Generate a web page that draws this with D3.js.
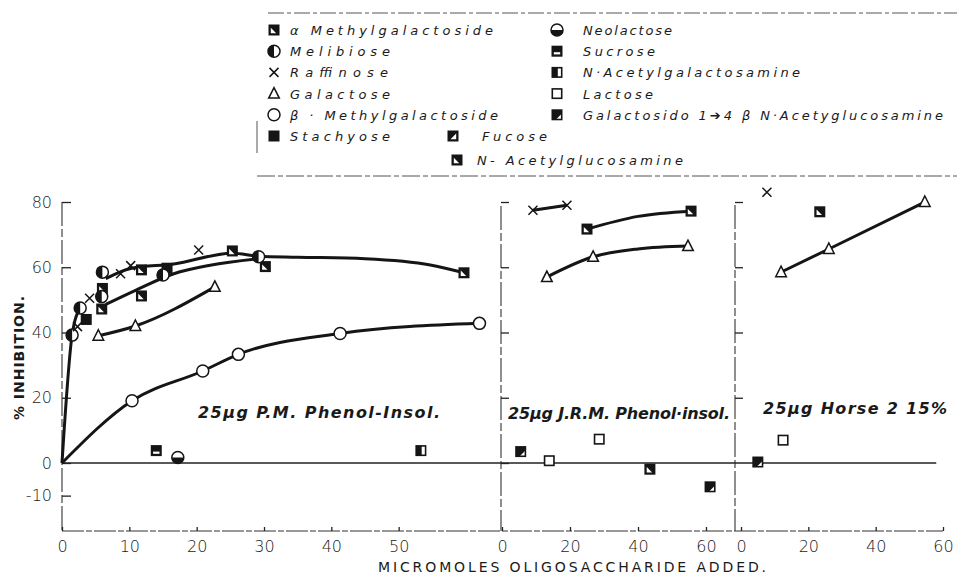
<!DOCTYPE html>
<html>
<head>
<meta charset="utf-8">
<script src="https://cdn.jsdelivr.net/npm/d3@7"></script>
<style>
  body { margin: 0; background: #fff; }
  text { font-family: "DejaVu Sans", sans-serif; fill: #1a1a1a; }
</style>
</head>
<body>
<div id="chart"></div>
<script>
// values: [micromoles, % inhibition]
// left panel: 25ug P.M. Phenol-Insol.
const alphaMethylL = [[6.0, 53.5], [11.8, 59.2], [25.3, 65.0], [59.7, 58.3]];
const acGlucosamineL = [[5.9, 47.2], [11.8, 51.2], [30.2, 60.2]];
const melibioseL = [[1.5, 39.2], [2.7, 47.5], [5.9, 51.0], [6.0, 58.5], [15.0, 57.6], [29.2, 63.2]];
const raffinoseL = [[2.3, 41.8], [4.1, 50.5], [8.7, 58.0], [10.2, 60.5], [20.3, 65.3]];
const stachyoseL = [[3.6, 44.0], [15.6, 59.7]];
const galactoseL = [[5.4, 39.0], [10.9, 42.0], [22.7, 54.0]];
const betaMethylL = [[10.4, 19.1], [20.9, 28.2], [26.2, 33.3], [41.3, 39.7], [62.0, 42.8]];
const sucroseL = [[14.0, 3.8]];
const neolactoseL = [[17.2, 1.7]];
const acGalactosamineL = [[53.3, 3.8]];

// drawn curves of the left panel (knots)
const steepCurveL = [[0, 0], [1.5, 39.2], [2.7, 47.5]];
const upperCurveL = [[6.5, 56.5], [10.2, 59.6], [16.6, 61.0], [25.3, 64.3], [29.2, 63.4], [35, 63.1], [45, 62.6], [54.7, 60.7], [59.7, 58.3]];
const melibioseCurveL = [[6.5, 48.6], [11.0, 53.0], [16.6, 58.0], [22.0, 60.6], [29.2, 62.6]];
const betaCurveL = [[0, 0], [10.4, 19.1], [20.9, 28.2], [26.2, 33.3], [41.3, 39.7], [62.0, 42.8]];

// middle panel: 25ug J.R.M. Phenol-insol.
const raffinoseM = [[9.1, 77.5], [19.1, 79.0]];
const alphaMethylM = [[25.0, 71.7], [55.6, 77.2]];
const galactoseM = [[13.2, 57.0], [26.8, 63.2], [54.7, 66.5]];
const lactoseM = [[13.9, 0.7], [28.6, 7.3]];
const galactosidoM = [[5.5, 3.5], [61.2, -7.3]];
const acGlucosamineM = [[43.5, -1.9]];
const alphaCurveM = [[25.0, 71.7], [40.0, 75.6], [55.6, 77.2]];
const galactoseCurveM = [[13.2, 57.0], [26.8, 63.2], [40.0, 65.6], [54.7, 66.5]];

// right panel: 25ug Horse 2 15%
const raffinoseR = [[7.7, 83.0]];
const alphaMethylR = [[23.4, 77.0]];
const galactoseR = [[11.9, 58.5], [26.1, 65.6], [54.6, 80.0]];
const lactoseR = [[12.5, 7.0]];
const galactosidoR = [[5.0, 0.3]];

const yTicks = [80, 60, 40, 20, 0, -10];
const xTicksL = [0, 10, 20, 30, 40, 50];
const xTicksSub = [0, 20, 40, 60];

const legendCol1 = ["α Methylgalactoside", "Melibiose", "Raffinose", "Galactose", "β · Methylgalactoside", "Stachyose"];
const legendCol1Marks = ["diag", "halfLeft", "x", "triangle", "circle", "squareFilled"];
const legendCol2 = ["Neolactose", "Sucrose", "N·Acetylgalactosamine", "Lactose", "Galactosido 1➔4 β N·Acetyglucosamine"];
const legendCol2Marks = ["halfBottom", "sucrose", "nagal", "square", "galactosido"];
const legendExtra = ["Fucose", "N- Acetylglucosamine"];
const legendExtraMarks = ["fucose", "diag"];

const width = 957, height = 578;
const svg = d3.select("#chart").append("svg")
  .attr("width", width)
  .attr("height", height)
  .attr("viewBox", `0 0 ${width} ${height}`);

const xL = d3.scaleLinear().domain([0, 60]).range([62, 466]);
const xM = d3.scaleLinear().domain([0, 60]).range([502, 706]);
const xR = d3.scaleLinear().domain([0, 60]).range([741, 943]);
const y = d3.scaleLinear().domain([0, 80]).range([463, 202]);
const axisY = 531;
const ink = "#151515";

const marker = (sel, type, cx, cy) => {
  const g = sel.append("g").attr("transform", `translate(${cx},${cy})`);
  const s = 4.7;
  const sq = (fill) => g.append("rect").attr("x", -s).attr("y", -s).attr("width", 2 * s).attr("height", 2 * s)
    .attr("fill", fill).attr("stroke", ink).attr("stroke-width", 1.6);
  switch (type) {
    case "circle":
      g.append("circle").attr("r", 6).attr("fill", "#fff").attr("stroke", ink).attr("stroke-width", 1.5);
      break;
    case "halfLeft":
      g.append("circle").attr("r", 6).attr("fill", "#fff").attr("stroke", ink).attr("stroke-width", 1.5);
      g.append("path").attr("d", "M0,-6 A6,6 0 0,0 0,6 Z").attr("fill", ink);
      break;
    case "halfBottom":
      g.append("circle").attr("r", 6).attr("fill", "#fff").attr("stroke", ink).attr("stroke-width", 1.5);
      g.append("path").attr("d", "M-6,0 A6,6 0 0,0 6,0 Z").attr("fill", ink);
      break;
    case "x":
      g.append("path").attr("d", "M-4.5,-4.5 L4.5,4.5 M-4.5,4.5 L4.5,-4.5")
        .attr("stroke", ink).attr("stroke-width", 1.5).attr("fill", "none");
      break;
    case "triangle":
      g.append("path").attr("d", "M0,-6 L5.3,4.5 L-5.3,4.5 Z")
        .attr("fill", "#fff").attr("stroke", ink).attr("stroke-width", 1.5);
      break;
    case "square":
      sq("#fff");
      break;
    case "squareFilled":
      sq(ink);
      break;
    case "diag":
      sq(ink);
      g.append("path").attr("d", "M-3.2,-2.2 L-3.2,3.2 L2.2,3.2 Z").attr("fill", "#fff");
      break;
    case "galactosido":
      sq("#fff");
      g.append("path").attr("d", `M${-s},${-s} L${s},${-s} L${s},-1 L-1,${s} L${-s},${s} Z`).attr("fill", ink);
      break;
    case "sucrose":
      sq(ink);
      g.append("rect").attr("x", -3.2).attr("y", 1).attr("width", 6.4).attr("height", 2.2).attr("fill", "#fff");
      break;
    case "nagal":
      sq("#fff");
      g.append("rect").attr("x", -s).attr("y", -s).attr("width", s + 0.8).attr("height", 2 * s).attr("fill", ink);
      break;
    case "fucose":
      sq(ink);
      g.append("path").attr("d", "M3.2,-2.5 L3.2,3.2 L-2.5,3.2 Z").attr("fill", "#fff");
      break;
  }
  return g;
};

// legend frame
const frame = svg.append("g").attr("stroke", "#555").attr("stroke-width", 1).attr("fill", "none");
frame.append("line").attr("x1", 268).attr("x2", 957).attr("y1", 13).attr("y2", 13).attr("stroke-dasharray", "16,3,4,3");
frame.append("line").attr("x1", 257).attr("x2", 957).attr("y1", 176).attr("y2", 176).attr("stroke-dasharray", "18,3,5,3");
frame.append("line").attr("x1", 257).attr("x2", 257).attr("y1", 121).attr("y2", 153);

const rowY = (i) => 30 + i * 21.2;
const legend = svg.append("g")
  .style("font-style", "italic")
  .style("font-size", "13px");

const col1Len = [203, 100, 98, 100, 208, 100];
legendCol1.forEach((name, i) => {
  marker(legend, legendCol1Marks[i], 274, rowY(i));
  legend.append("text").attr("x", 290).attr("y", rowY(i) + 5)
    .attr("textLength", col1Len[i]).attr("lengthAdjust", "spacing").text(name);
});
const col2Len = [89, 72, 217, 70, 360];
legendCol2.forEach((name, i) => {
  marker(legend, legendCol2Marks[i], 557, rowY(i));
  legend.append("text").attr("x", 583).attr("y", rowY(i) + 5)
    .attr("textLength", col2Len[i]).attr("lengthAdjust", "spacing").text(name);
});
marker(legend, legendExtraMarks[0], 453, rowY(5));
legend.append("text").attr("x", 482).attr("y", rowY(5) + 5)
  .attr("textLength", 65).attr("lengthAdjust", "spacing").text(legendExtra[0]);
marker(legend, legendExtraMarks[1], 457, 160);
legend.append("text").attr("x", 477).attr("y", 165)
  .attr("textLength", 206).attr("lengthAdjust", "spacing").text(legendExtra[1]);

// axes
const axes = svg.append("g");
axes.append("line").attr("x1", xL(0)).attr("x2", xR(60)).attr("y1", axisY).attr("y2", axisY)
  .attr("stroke", "#333").attr("stroke-width", 1.1).attr("stroke-dasharray", "22,2,6,2");
[[xL(0), 202], [xM(0) - 1, 206], [xR(0) - 6, 205]].forEach(([ax, top]) => {
  axes.append("line").attr("x1", ax).attr("x2", ax).attr("y1", top).attr("y2", axisY)
    .attr("stroke", "#333").attr("stroke-width", 1.1).attr("stroke-dasharray", "24,3,8,3");
});

const styleAxis = (g) => {
  g.select(".domain").remove();
  g.selectAll(".tick line").attr("stroke", "#222").attr("stroke-width", 1.3);
  g.selectAll(".tick text").attr("font-family", "DejaVu Sans").attr("font-size", 16).attr("font-weight", 200).attr("fill", "#222");
};

axes.append("g").attr("transform", `translate(${xL(0)},0)`)
  .call(d3.axisLeft(y).tickValues(yTicks).tickSize(-9).tickPadding(10).tickFormat(d => String(d)))
  .call(styleAxis);
axes.append("g").attr("transform", `translate(${xM(0) - 1},0)`)
  .call(d3.axisLeft(y).tickValues(yTicks.slice(0, 5)).tickSize(-8).tickFormat(""))
  .call(styleAxis);
axes.append("g").attr("transform", `translate(${xR(0) - 6},0)`)
  .call(d3.axisLeft(y).tickValues(yTicks.slice(0, 4)).tickSize(-8).tickFormat(""))
  .call(styleAxis);

[[xL, xTicksL], [xM, xTicksSub], [xR, xTicksSub]].forEach(([sc, ticks]) => {
  axes.append("g").attr("transform", `translate(0,${axisY})`)
    .call(d3.axisBottom(sc).tickValues(ticks).tickSize(-4).tickPadding(10))
    .call(styleAxis);
});

svg.append("text")
  .attr("transform", "translate(24,358) rotate(-90)")
  .attr("text-anchor", "middle")
  .attr("font-size", 14).attr("font-weight", "bold")
  .attr("textLength", 124).attr("lengthAdjust", "spacing")
  .text("% INHIBITION.");

svg.append("text")
  .attr("x", 378).attr("y", 572)
  .attr("font-size", 14)
  .attr("textLength", 388).attr("lengthAdjust", "spacing")
  .text("MICROMOLES OLIGOSACCHARIDE ADDED.");

// baseline at zero inhibition
svg.append("line").attr("x1", xL(0)).attr("x2", xR(58)).attr("y1", y(0)).attr("y2", y(0))
  .attr("stroke", "#222").attr("stroke-width", 1.3);

// drawn curves
const curve = (sc, pts) => svg.append("path")
  .datum(pts)
  .attr("fill", "none")
  .attr("stroke", ink)
  .attr("stroke-width", 3)
  .attr("d", d3.line().x(d => sc(d[0])).y(d => y(d[1])).curve(d3.curveMonotoneX));

curve(xL, steepCurveL);
curve(xL, upperCurveL);
curve(xL, melibioseCurveL);
curve(xL, galactoseL);
curve(xL, betaCurveL);
curve(xM, raffinoseM);
curve(xM, alphaCurveM);
curve(xM, galactoseCurveM);
curve(xR, galactoseR);

// points
const pts = svg.append("g");
const plot = (sc, data, type) => data.forEach(d => marker(pts, type, sc(d[0]), y(d[1])));

plot(xL, betaMethylL, "circle");
plot(xL, galactoseL, "triangle");
plot(xL, stachyoseL, "squareFilled");
plot(xL, acGlucosamineL, "diag");
plot(xL, alphaMethylL, "diag");
plot(xL, melibioseL, "halfLeft");
plot(xL, raffinoseL, "x");
plot(xL, sucroseL, "sucrose");
plot(xL, neolactoseL, "halfBottom");
plot(xL, acGalactosamineL, "nagal");

plot(xM, raffinoseM, "x");
plot(xM, alphaMethylM, "diag");
plot(xM, galactoseM, "triangle");
plot(xM, lactoseM, "square");
plot(xM, galactosidoM, "galactosido");
plot(xM, acGlucosamineM, "diag");

plot(xR, raffinoseR, "x");
plot(xR, alphaMethylR, "diag");
plot(xR, galactoseR, "triangle");
plot(xR, lactoseR, "square");
plot(xR, galactosidoR, "galactosido");

// panel captions
const caps = svg.append("g").style("font-style", "italic").attr("font-weight", "bold").attr("font-size", 16);
caps.append("text").attr("x", 198).attr("y", 418).attr("textLength", 242).attr("lengthAdjust", "spacing").text("25μg P.M. Phenol-Insol.");
caps.append("text").attr("x", 508).attr("y", 419).attr("textLength", 222).attr("lengthAdjust", "spacing").text("25μg J.R.M. Phenol·insol.");
caps.append("text").attr("x", 763).attr("y", 414).attr("textLength", 184).attr("lengthAdjust", "spacing").text("25μg Horse 2 15%");
</script>
</body>
</html>
